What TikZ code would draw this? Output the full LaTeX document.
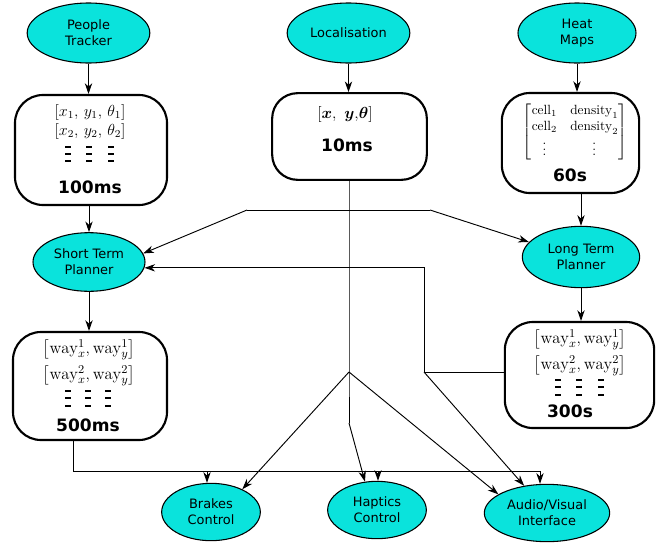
\documentclass[tikz,border=0pt]{standalone}
\usepackage{amsmath}
\usepackage{fontspec}
\setsansfont{DejaVu Sans}
\usetikzlibrary{shapes.geometric,arrows.meta}
\definecolor{nodecyan}{RGB}{10,227,220}
\begin{document}
\begin{tikzpicture}[x=0.75pt,y=-0.75pt,
  proc/.style={ellipse,draw=black,line width=0.8pt,fill=nodecyan,inner sep=0pt,align=center,
    font=\sffamily\fontsize{9.7}{12}\selectfont},
  databox/.style={draw=black,line width=1.6pt,rounded corners=21pt,inner sep=0pt},
  conn/.style={draw=black,line width=0.7pt},
  arr/.style={conn,-{Stealth[length=8pt,width=5.5pt,inset=2.5pt]}},
  tag/.style={font=\sffamily\bfseries\fontsize{12.8}{15}\selectfont,inner sep=0pt},
  mth/.style={font=\fontsize{11.5}{13}\selectfont,inner sep=0pt},
  wmth/.style={font=\fontsize{12.5}{14}\selectfont,inner sep=0pt},
  vdash/.style={draw=black,line width=0.9pt}
]
\useasboundingbox (0,0) rectangle (664,543);

% ellipses
\node[proc,minimum width=92pt,minimum height=45pt] (PT) at (88.5,33) {People\\Tracker};
\node[proc,minimum width=92pt,minimum height=45pt] (Loc) at (348.5,33) {Localisation};
\node[proc,minimum width=88.5pt,minimum height=45pt] (HM) at (577,33) {Heat\\Maps};
\node[proc,minimum width=84pt,minimum height=44pt] (STP) at (89,262) {Short Term\\Planner};
\node[proc,minimum width=88pt,minimum height=46pt] (LTP) at (581,257) {Long Term\\Planner};
\node[proc,minimum width=74pt,minimum height=43pt] (Brk) at (211,512) {Brakes\\Control};
\node[proc,minimum width=74pt,minimum height=43pt] (Hap) at (377,510) {Haptics\\Control};
\node[proc,minimum width=94pt,minimum height=43pt] (AV) at (547,513) {Audio/Visual\\Interface};

% boxes
\node[databox,minimum width=114pt,minimum height=82.5pt] (B1) at (91,150) {};
\node[databox,minimum width=116pt,minimum height=65pt,rounded corners=19pt] (B2) at (349.5,136.5) {};
\node[databox,minimum width=103pt,minimum height=75pt] (B3) at (570.5,143) {};
\node[databox,minimum width=115.5pt,minimum height=81pt] (B5) at (90,386) {};
\node[databox,minimum width=112pt,minimum height=79.5pt] (B6) at (579.5,375) {};

% box contents
\node[mth] (b1a) at (90,112) {$[x_1,\,y_1,\,\theta_1]$};
\node[mth] (b1b) at (90,131) {$[x_2,\,y_2,\,\theta_2]$};
\foreach \cx in {68,89,111}{
  \foreach \cy in {147,154,161}{
    \draw[vdash] (\cx-3,\cy) -- (\cx+3,\cy);
  }
}
\node[tag] (b1t) at (90,187) {100ms};

\node[font=\fontsize{12}{14}\selectfont,inner sep=0pt] (b2a) at (345,114) {$[\boldsymbol{x},\ \boldsymbol{y}{,}\boldsymbol{\theta}]$};
\node[tag] (b2t) at (347,145) {10ms};

\node[font=\fontsize{10}{12}\selectfont,inner sep=0pt] (b3a) at (575,132) {$\begin{bmatrix}\mathrm{cell}_1 & \mathrm{density}_1\\ \mathrm{cell}_2 & \mathrm{density}_2\\ \vdots & \vdots\end{bmatrix}$};
\node[tag] (b3t) at (570,175) {60s};

\node[wmth] (b5a) at (89,350) {$\bigl[\mathrm{way}_x^1,\mathrm{way}_y^1\bigr]$};
\node[wmth] (b5b) at (89,376) {$\bigl[\mathrm{way}_x^2,\mathrm{way}_y^2\bigr]$};
\foreach \cx in {68,88,108}{
  \foreach \cy in {391,398,406}{
    \draw[vdash] (\cx-3,\cy) -- (\cx+3,\cy);
  }
}
\node[tag] (b5t) at (88,425) {500ms};

\node[wmth] (b6a) at (580,340) {$\bigl[\mathrm{way}_x^1,\mathrm{way}_y^1\bigr]$};
\node[wmth] (b6b) at (580,366) {$\bigl[\mathrm{way}_x^2,\mathrm{way}_y^2\bigr]$};
\foreach \cx in {558,579,601}{
  \foreach \cy in {380,387,395}{
    \draw[vdash] (\cx-3,\cy) -- (\cx+3,\cy);
  }
}
\node[tag] (b6t) at (570,411) {300s};

% coordinates
\coordinate (hl) at (247,210);
\coordinate (hr) at (430,210);
\coordinate (split) at (349,372);
\coordinate (bend) at (349,423);
\coordinate (fb) at (424,372);
\coordinate (bus0) at (73,471);
\coordinate (bus1) at (207,471);
\coordinate (bus2) at (378,471);
\coordinate (bus3) at (540,471);

% connectors
\draw[arr] (PT) -- (PT |- B1.north);
\draw[arr] (Loc) -- (Loc |- B2.north);
\draw[arr] (HM) -- (HM |- B3.north);
\draw[arr] (B1.south -| STP) -- (STP);
\draw[arr] (B3.south -| LTP) -- (LTP);
\draw[arr] (STP) -- (STP |- B5.north);
\draw[arr] (LTP) -- (LTP |- B6.north);

\draw[conn] (B2.south -| split) -- (split) -- (bend);
\draw[arr] (bend) -- (Hap.113);
\draw[arr] (split) -- (Brk.36);
\draw[arr] (split) -- (AV.159);

\draw[conn] (hl) -- (hr);
\draw[arr] (hl) -- (STP.9);
\draw[arr] (hr) -- (LTP.164);

\draw[conn] (B6.west |- fb) -- (fb);
\draw[arr] (fb) |- (STP.354);
\draw[arr] (fb) -- (AV.130);

\draw[conn] (B5.south -| bus0) -- (bus0) -- (bus3);
\draw[arr] (bus1) -- (bus1 |- Brk.north);
\draw[arr] (bus2) -- (bus2 |- Hap.north);
\draw[arr] (bus3) -- (AV.north -| bus3);
\end{tikzpicture}
\end{document}
